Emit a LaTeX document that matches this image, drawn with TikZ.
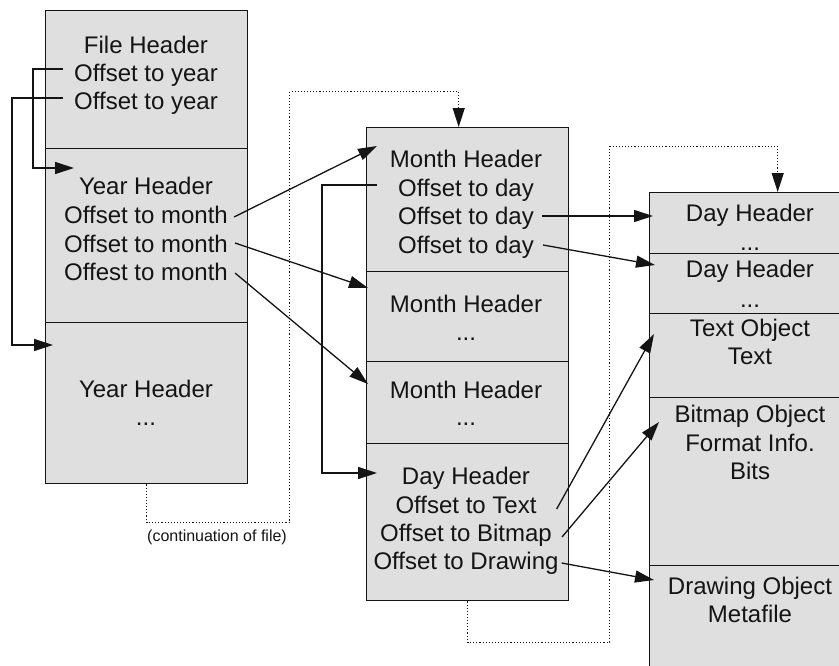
\documentclass[tikz,border=0pt]{standalone}
\usepackage{fontspec}
\setmainfont{Liberation Sans}
\usetikzlibrary{arrows.meta}
\definecolor{cellfill}{HTML}{DFDFDF}
\definecolor{ink}{HTML}{141414}
\begin{document}
\begin{tikzpicture}[x=1pt,y=-1pt,
  cell/.style={draw=ink, fill=cellfill, line width=1.4pt, anchor=north west,
               inner sep=0pt, minimum width=202pt},
  txt/.style={anchor=base, inner sep=0pt, text=ink, font=\fontsize{24}{28}\selectfont},
  note/.style={anchor=base, inner sep=0pt, text=ink, font=\fontsize{16}{19}\selectfont},
  link/.style={draw=ink, line width=1.3pt, -{Triangle[length=19pt,width=12pt]}},
  dotlink/.style={draw=ink, line width=1.1pt, dash pattern=on 1.1pt off 2pt,
                  -{Triangle[length=19pt,width=12pt]}}
]
\useasboundingbox (0,0) rectangle (839,665);
\clip (0,0) rectangle (839,665);

% ---- file column ----
\node[cell, minimum height=138pt] (fh)  at (45,10)  {};
\node[cell, minimum height=174pt] (yh1) at (45,148) {};
\node[cell, minimum height=161pt] (yh2) at (45,322) {};

% ---- month / day column ----
\node[cell, minimum height=144pt] (mh1) at (366,127) {};
\node[cell, minimum height=90pt]  (mh2) at (366,271) {};
\node[cell, minimum height=82pt]  (mh3) at (366,361) {};
\node[cell, minimum height=157pt] (dh)  at (366,443) {};

% ---- day / object column ----
\node[cell, minimum height=61pt]  (rd1) at (649,192) {};
\node[cell, minimum height=60pt]  (rd2) at (649,253) {};
\node[cell, minimum height=84pt]  (rto) at (649,313) {};
\node[cell, minimum height=168pt] (rbo) at (649,397) {};
\node[cell, minimum height=140pt] (rdo) at (649,565) {};

% ---- texts ----
\node[txt] (fhA) at (146,53)  {File Header};
\node[txt] (fhB) at (146,81)  {Offset to year};
\node[txt] (fhC) at (146,109) {Offset to year};

\node[txt] (yhA) at (146,194) {Year Header};
\node[txt] (yhB) at (146,223) {Offset to month};
\node[txt] (yhC) at (146,252) {Offset to month};
\node[txt] (yhD) at (146,280) {Offest to month};

\node[txt] (ysA) at (146,397) {Year Header};
\node[txt] (ysB) at (146,425) {...};

\node[txt] (mhA) at (466,167) {Month Header};
\node[txt] (mhB) at (466,196) {Offset to day};
\node[txt] (mhC) at (466,224) {Offset to day};
\node[txt] (mhD) at (466,253) {Offset to day};

\node[txt] (msA) at (466,312) {Month Header};
\node[txt] (msB) at (466,340) {...};

\node[txt] (mtA) at (466,398) {Month Header};
\node[txt] (mtB) at (466,425) {...};

\node[txt] (dhA) at (466,484) {Day Header};
\node[txt] (dhB) at (466,513) {Offset to Text};
\node[txt] (dhC) at (466,541) {Offset to Bitmap};
\node[txt] (dhD) at (466,569) {Offset to Drawing};

\node[txt] (rdA) at (750,221) {Day Header};
\node[txt] (rdB) at (750,250) {...};
\node[txt] (reA) at (750,277) {Day Header};
\node[txt] (reB) at (750,307) {...};
\node[txt] (rtA) at (750,336) {Text Object};
\node[txt] (rtB) at (750,364) {Text};
\node[txt] (rbA) at (750,422) {Bitmap Object};
\node[txt] (rbB) at (750,451) {Format Info.};
\node[txt] (rbC) at (750,479) {Bits};
\node[txt] (rwA) at (750,594) {Drawing Object};
\node[txt] (rwB) at (750,622) {Metafile};

\node[note] (cont) at (217,541) {(continuation of file)};

% ---- offsets inside the file header ----
\draw[link] ([shift={(-11,-12)}]fhB.base west) -- ++(-30,0)
            |- ([shift={(29,20)}]yh1.north west);
\draw[link] ([shift={(-11,-11)}]fhC.base west) -- ++(-51,0)
            |- ([shift={(8,23)}]yh2.north west);

% ---- year to month ----
\draw[link] ([shift={(6,-6)}]yhB.base east) -- ([shift={(11,19)}]mh1.north west);
\draw[link] ([shift={(7,-9)}]yhC.base east) -- ([shift={(2,17)}]mh2.north west);
\draw[link] ([shift={(7,-7)}]yhD.base east) -- ([shift={(2,23)}]mh3.north west);

% ---- month to day ----
\draw[link] ([shift={(-21,-11)}]mhB.base west) -- ++(-55,0)
            |- ([shift={(11,30)}]dh.north west);
\draw[link] ([shift={(8,-8)}]mhC.base east) -- ([shift={(4,24)}]rd1.north west);
\draw[link] ([shift={(9,-8)}]mhD.base east) -- ([shift={(6,12)}]rd2.north west);

% ---- day to objects ----
\draw[link] ([shift={(20,-4)}]dhB.base east) -- ([shift={(5,21)}]rto.north west);
\draw[link] ([shift={(10,-4)}]dhC.base east) -- ([shift={(10,25)}]rbo.north west);
\draw[link] ([shift={(3,-6)}]dhD.base east)  -- ([shift={(5,15)}]rdo.north west);

% ---- continuation of file ----
\draw[dotlink] (yh2.south) -- ++(0,38) -- ++(143,0) -- ++(0,-431) -- ++(169,0)
               -- ([xshift=-9pt]mh1.north);
\draw[dotlink] (dh.south) -- ++(0,41) -- ++(142,0) -- ++(0,-496) -- ++(168,0)
               -- ([xshift=27pt]rd1.north);
\end{tikzpicture}
\end{document}
